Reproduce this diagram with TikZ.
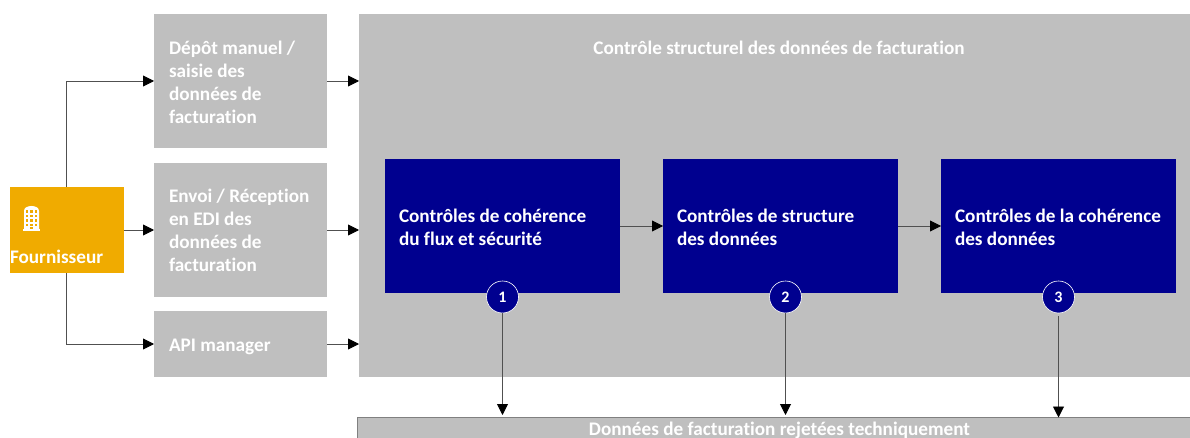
\documentclass[tikz,border=0pt]{standalone}
\usepackage{fontspec}
\setmainfont[Ligatures=CommonOff]{Carlito}
\usetikzlibrary{arrows.meta,calc}
\definecolor{greybox}{HTML}{BFBFBF}
\definecolor{navybox}{HTML}{00008F}
\definecolor{amberbox}{HTML}{F0AB00}
\definecolor{arrowline}{HTML}{505050}
\tikzset{
  x=1pt,y=-1pt,
  basebox/.style={rectangle,inner sep=0pt,outer sep=0pt,text=white,font=\fontsize{19.2}{23}\selectfont\bfseries,align=flush left},
  greyside/.style={basebox,fill=greybox,minimum width=173pt,text width=143pt},
  bluebox/.style={basebox,fill=navybox,minimum width=235pt,minimum height=134pt,text width=207pt},
  numdot/.style={circle,fill=navybox,draw=white,line width=0.6pt,minimum size=32pt,inner sep=0pt,text=white,font=\fontsize{16}{18}\selectfont\bfseries},
  conn/.style={draw=arrowline,line width=0.9pt,-{Triangle[length=11pt,width=11pt,color=black]}},
}
\begin{document}
\begin{tikzpicture}
\path[use as bounding box,clip] (0,0) rectangle (1190,438);
\fill[white] (0,0) rectangle (1190,438);

\node[basebox,fill=greybox,minimum width=840pt,minimum height=363pt,anchor=north west] (main) at (359,14) {};
\node[basebox,anchor=base] (maintitle) at (779,55) {Contrôle structurel des données de facturation};

\node[greyside,minimum height=134pt,anchor=north west] (dep) at (154,14) {\rule{0pt}{16pt}Dépôt manuel /\\saisie des\\données de\\facturation};
\node[greyside,minimum height=134pt,anchor=north west] (edi) at (154,163) {Envoi / Réception\\en EDI des\\données de\\facturation};
\node[greyside,minimum height=66pt,anchor=north west] (api) at (154,311) {\rule{0pt}{19pt}API manager};

\node[basebox,fill=amberbox,minimum width=113.6pt,minimum height=86pt,anchor=north west] (four) at (10,187) {};
\node[basebox,anchor=base west] (fourlabel) at (10,263) {Fournisseur};
% building icon
\fill[white] (24,211) .. controls (24,208) and (27,206) .. (31.5,206) .. controls (36,206) and (39,208) .. (39,211) -- (39,229) -- (24,229) -- cycle;
\fill[white] (23,229) rectangle (40,231);
\foreach \cx in {26,30.3,34.6}{\foreach \cy in {210.5,215,219.5,224}{\fill[amberbox] (\cx,\cy) rectangle ++(2.2,2.2);}}
\fill[amberbox] (30.3,227.5) rectangle ++(2.2,1.5);

\node[bluebox,anchor=north west] (c1) at (385,159) {\rule{0pt}{16pt}Contrôles de cohérence\\du flux et sécurité};
\node[bluebox,anchor=north west] (c2) at (663,159) {\rule{0pt}{16pt}Contrôles de structure\\des données};
\node[bluebox,anchor=north west] (c3) at (941,159) {\rule{0pt}{16pt}Contrôles de la cohérence\\des données};

\node[basebox,fill=greybox,draw=gray,line width=1pt,minimum width=840pt,minimum height=50pt,anchor=north west] (rej) at (357.5,417.5) {};
\node[basebox,anchor=base] (rejlabel) at (779.5,435) {Données de facturation rejetées techniquement};

\node[numdot] (n1) at (502.5,297) {1};
\node[numdot] (n2) at (785.5,297) {2};
\node[numdot] (n3) at (1058.5,297) {3};

\draw[conn] (four.north) |- (dep.west);
\draw[conn] (four.east) -- (edi.west);
\draw[conn] (four.south) |- (api.west);
\draw[conn] (dep.east) -- (dep.east -| main.west);
\draw[conn] (edi.east) -- (edi.east -| main.west);
\draw[conn] (api.east) -- (api.east -| main.west);
\draw[conn] (c1.east) -- (c2.west);
\draw[conn] (c2.east) -- (c3.west);
\draw[conn,shorten >=2.5pt] (n1.south) -- (n1.south |- rej.north);
\draw[conn,shorten >=2.5pt] (n2.south) -- (n2.south |- rej.north);
\draw[conn,shorten <=3pt] (n3.south) -- (n3.south |- rej.north);
\end{tikzpicture}
\end{document}
